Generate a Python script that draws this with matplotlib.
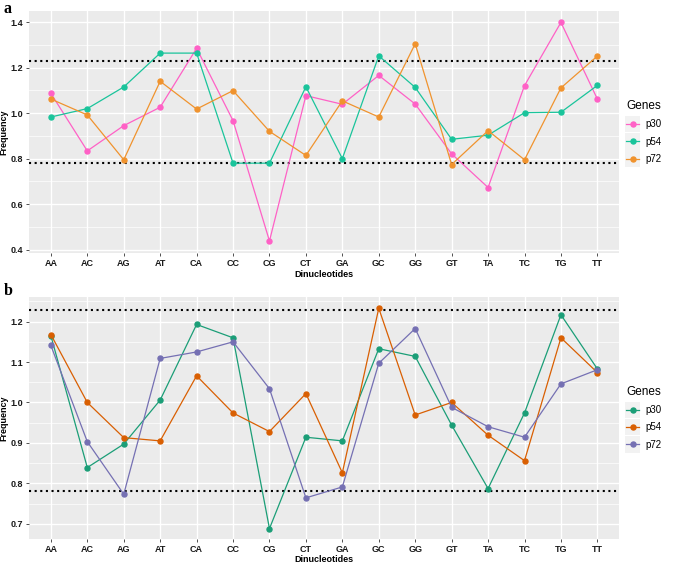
import matplotlib.pyplot as plt
from matplotlib.legend_handler import HandlerLine2D
from matplotlib.patches import Rectangle
from matplotlib.ticker import MultipleLocator

plt.rcParams['font.family'] = ['Liberation Sans', 'DejaVu Sans']

# dinucleotidos (eje x)
dinucs = ['AA', 'AC', 'AG', 'AT', 'CA', 'CC', 'CG', 'CT',
          'GA', 'GC', 'GG', 'GT', 'TA', 'TC', 'TG', 'TT']
genes = ['p30', 'p54', 'p72']

# panel a
a_p30 = [1.087, 0.834, 0.945, 1.026, 1.285, 0.967, 0.438, 1.077,
         1.039, 1.166, 1.040, 0.821, 0.673, 1.121, 1.399, 1.062]
a_p54 = [0.983, 1.020, 1.115, 1.264, 1.264, 0.780, 0.780, 1.116,
         0.800, 1.252, 1.113, 0.885, 0.903, 1.002, 1.004, 1.122]
a_p72 = [1.062, 0.992, 0.795, 1.140, 1.018, 1.099, 0.920, 0.814,
         1.054, 0.983, 1.305, 0.774, 0.923, 0.795, 1.111, 1.251]

# panel b
b_p30 = [1.165, 0.839, 0.897, 1.006, 1.193, 1.160, 0.688, 0.914,
         0.905, 1.133, 1.114, 0.944, 0.787, 0.974, 1.217, 1.083]
b_p54 = [1.168, 1.000, 0.913, 0.905, 1.066, 0.974, 0.928, 1.022,
         0.826, 1.233, 0.969, 1.000, 0.919, 0.856, 1.160, 1.074]
b_p72 = [1.141, 0.903, 0.773, 1.109, 1.125, 1.150, 1.034, 0.764,
         0.791, 1.097, 1.183, 0.988, 0.940, 0.914, 1.046, 1.081]

umbrales = [1.23, 0.78]

colores_a = ['#FF61C6', '#1AC49B', '#F0932E']
colores_b = ['#1B9E77', '#D95F02', '#7570B3']


class HandlerKey(HandlerLine2D):
    """Legend key with grey background like ggplot"""
    def create_artists(self, legend, orig_handle, xdescent, ydescent,
                       width, height, fontsize, trans):
        arts = super().create_artists(legend, orig_handle, xdescent, ydescent,
                                      width, height, fontsize, trans)
        fondo = Rectangle((-xdescent - 1, -ydescent - 3.5), width + 2, height + 7,
                          facecolor='#F2F2F2', edgecolor='none', transform=trans)
        return [fondo] + list(arts)


def panel(ax, series, colores, ylim, mayor):
    x = list(range(len(dinucs)))
    ax.set_facecolor('#EBEBEB')
    for s in ax.spines.values():
        s.set_visible(False)
    ax.yaxis.set_major_locator(MultipleLocator(mayor))
    ax.yaxis.set_minor_locator(MultipleLocator(mayor / 2))
    ax.grid(which='major', color='white', linewidth=1.0)
    ax.grid(which='minor', axis='y', color='white', linewidth=0.5)
    ax.set_axisbelow(True)
    for u in umbrales:
        ax.axhline(u, color='black', linestyle=(0, (1, 1.7)), linewidth=1.5, zorder=2)
    for vals, c, g in zip(series, colores, genes):
        ax.plot(x, vals, color=c, linewidth=0.9, marker='o', markersize=3.6,
                label=g, zorder=3)
    ax.set_xticks(x)
    ax.set_xticklabels(dinucs)
    ax.set_xlim(-0.6, len(dinucs) - 0.4)
    ax.set_ylim(*ylim)
    ax.tick_params(which='major', length=2.5, width=0.6, color='#333333',
                   labelsize=6.5, pad=2)
    ax.tick_params(which='minor', length=0)
    for t in ax.get_xticklabels() + ax.get_yticklabels():
        t.set_fontweight('bold')
        t.set_color('#1A1A1A')
    ax.set_xlabel('Dinucleotides', fontsize=6.5, fontweight='bold', labelpad=1)
    ax.set_ylabel('Frequency', fontsize=6.5, fontweight='bold', labelpad=1.5)
    leg = ax.legend(title='Genes', loc='center left', bbox_to_anchor=(1.012, 0.5),
                    frameon=False, fontsize=7, title_fontsize=8.5,
                    borderpad=0, borderaxespad=0,
                    handlelength=1.3, handletextpad=0.7, labelspacing=0.75,
                    handler_map={plt.Line2D: HandlerKey()})
    leg._legend_box.align = 'left'


fig = plt.figure(figsize=(6.73, 5.63), dpi=100)
ax1 = fig.add_axes([0.0431, 0.5506, 0.877, 0.4294])
ax2 = fig.add_axes([0.0431, 0.0432, 0.877, 0.4293])

panel(ax1, [a_p30, a_p54, a_p72], colores_a, (0.385, 1.448), 0.2)
panel(ax2, [b_p30, b_p54, b_p72], colores_b, (0.663, 1.261), 0.1)

# letras de los paneles
fig.text(4 / 673, 1 - 1 / 563, 'a', fontsize=11.5, fontweight='bold',
         family='Liberation Serif', va='top', ha='left')
fig.text(4 / 673, 1 - 283 / 563, 'b', fontsize=11.5, fontweight='bold',
         family='Liberation Serif', va='top', ha='left')

plt.savefig('out.png', dpi=100)
